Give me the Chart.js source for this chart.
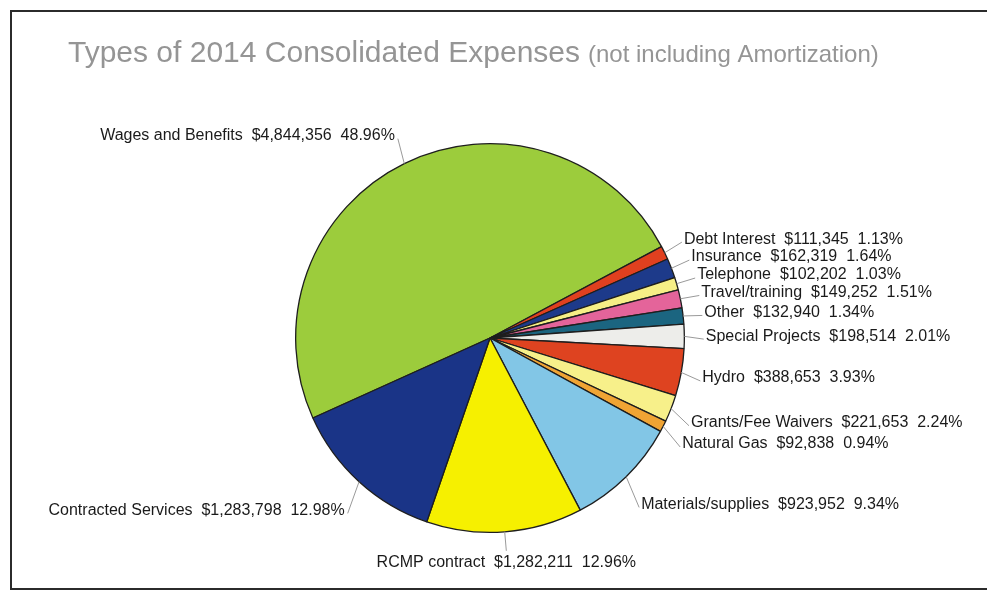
<!DOCTYPE html>
<html>
<head>
<meta charset="utf-8">
<script src="https://cdn.jsdelivr.net/npm/chart.js@4"></script>
<style>
  html, body { margin: 0; padding: 0; background: #fff; }
  #wrap { position: relative; width: 987px; height: 592px; }
</style>
</head>
<body>
<div id="wrap"><canvas id="graficoDespesas" width="987" height="592"></canvas></div>
<script>
// 2014 consolidated expenses, slice order runs clockwise from Wages
const categorias = [
  'Wages and Benefits', 'Debt Interest', 'Insurance', 'Telephone',
  'Travel/training', 'Other', 'Special Projects', 'Hydro',
  'Grants/Fee Waivers', 'Natural Gas', 'Materials/supplies',
  'RCMP contract', 'Contracted Services'
];
const valores = [
  4844356, 111345, 162319, 102202,
  149252, 132940, 198514, 388653,
  221653, 92838, 923952,
  1282211, 1283798
];
const cores = [
  '#9ccc3c', '#e0401f', '#1d3a8a', '#f6ef86',
  '#e4649a', '#1b6580', '#ededea', '#de4320',
  '#f7f08a', '#f0a434', '#82c6e6',
  '#f6f000', '#1a3487'
];

const total = valores.reduce((a, b) => a + b, 0);
const fmtDinheiro = v => '$' + v.toLocaleString('en-US');
const fmtPct = v => (v / total * 100).toFixed(2) + '%';

// frame + title
const molduraTitulo = {
  id: 'molduraTitulo',
  beforeDraw(chart) {
    const ctx = chart.ctx;
    ctx.save();
    ctx.fillStyle = '#fff';
    ctx.fillRect(0, 0, chart.width, chart.height);
    ctx.strokeStyle = '#2b2b2b';
    ctx.lineWidth = 2;
    ctx.beginPath();
    ctx.moveTo(987, 11);
    ctx.lineTo(11, 11);
    ctx.lineTo(11, 589);
    ctx.lineTo(987, 589);
    ctx.stroke();

    ctx.fillStyle = '#959595';
    ctx.textBaseline = 'alphabetic';
    ctx.textAlign = 'left';
    ctx.font = '30px "Liberation Sans", Arial, sans-serif';
    const t1 = 'Types of 2014 Consolidated Expenses';
    ctx.fillText(t1, 68, 62);
    const w1 = ctx.measureText(t1).width;
    ctx.font = '24px "Liberation Sans", Arial, sans-serif';
    ctx.fillText('(not including Amortization)', 68 + w1 + 8, 62);
    ctx.restore();
  }
};

// outside labels with leader lines
const rotulos = {
  id: 'rotulos',
  afterDatasetsDraw(chart) {
    const ctx = chart.ctx;
    const arcos = chart.getDatasetMeta(0).data;
    ctx.save();
    ctx.font = '16px "Liberation Sans", Arial, sans-serif';
    ctx.textBaseline = 'middle';
    arcos.forEach((arc, i) => {
      const { x, y, startAngle, endAngle, outerRadius: r } = arc;
      const meio = (startAngle + endAngle) / 2;
      const c = Math.cos(meio), s = Math.sin(meio);
      const lateral = Math.abs(c) > 0.25;
      const lx = x + r * 1.11 * c;
      const ly = y + r * (lateral && s > 0.3 ? 1.2 : 1.16) * s;
      const texto = categorias[i] + '  ' + fmtDinheiro(valores[i]) + '  ' + fmtPct(valores[i]);

      let alinhar = 'center', fx = lx, fy = ly - 12;
      if (c > 0.25) { alinhar = 'left'; fx = lx - 2; fy = ly + 3; }
      else if (c < -0.25) { alinhar = 'right'; fx = lx + 3; fy = ly + 3; }
      if (alinhar === 'center' && s < 0) fy = ly + 12;

      ctx.strokeStyle = '#9a9a9a';
      ctx.lineWidth = 1;
      ctx.beginPath();
      ctx.moveTo(x + r * c, y + r * s);
      ctx.lineTo(fx, fy);
      ctx.stroke();

      ctx.fillStyle = '#1a1a1a';
      ctx.textAlign = alinhar;
      ctx.fillText(texto, lx, ly);
    });
    ctx.restore();
  }
};

new Chart(document.getElementById('graficoDespesas'), {
  type: 'pie',
  data: {
    labels: categorias,
    datasets: [{
      data: valores,
      backgroundColor: cores,
      borderColor: '#1e1e1e',
      borderWidth: 1.3
    }]
  },
  options: {
    responsive: false,
    animation: false,
    rotation: 245.7,
    layout: { padding: { top: 143, bottom: 59, left: 100, right: 107 } },
    plugins: {
      legend: { display: false },
      tooltip: { enabled: false }
    }
  },
  plugins: [molduraTitulo, rotulos]
});
</script>
</body>
</html>
